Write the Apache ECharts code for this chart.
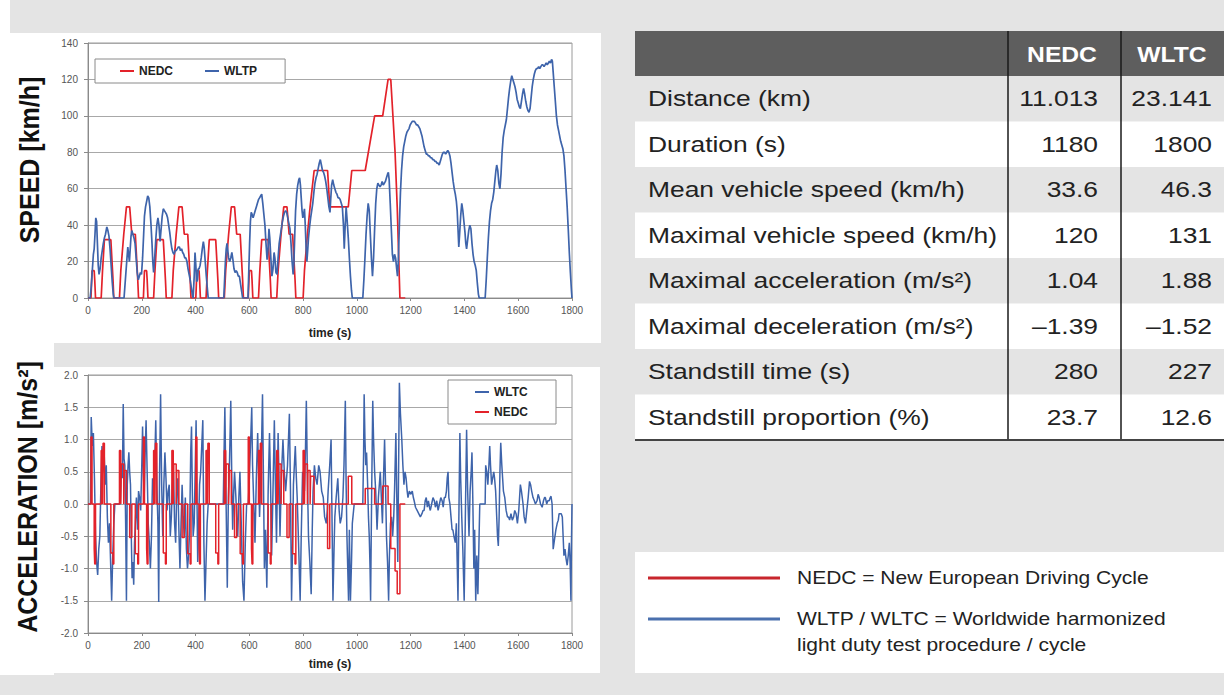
<!DOCTYPE html>
<html>
<head>
<meta charset="utf-8">
<title>NEDC vs WLTC driving cycles</title>
<script src="https://cdn.jsdelivr.net/npm/echarts@6/dist/echarts.min.js"></script>
<style>
  html, body { margin: 0; padding: 0; background: #e4e4e4; }
  #c { width: 1224px; height: 695px; }
</style>
</head>
<body>
<div id="c"></div>
<script>
// ---- Speed traces [time s, speed km/h] ----
const nedcSpeed = [
  [0,0],[11,0],[15,15],[23,15],[25,10],[28,0],[49,0],[54,15],[56,15],[61,32],[85,32],[93,10],[96,0],
  [117,0],[122,15],[124,15],[133,35],[135,35],[143,50],[155,50],[163,35],[176,35],[185,10],[188,0],[195,0],
  [206,0],[210,15],[218,15],[220,10],[223,0],[244,0],[249,15],[251,15],[256,32],[280,32],[288,10],[291,0],
  [312,0],[317,15],[319,15],[328,35],[330,35],[338,50],[350,50],[358,35],[371,35],[380,10],[383,0],[390,0],
  [401,0],[405,15],[413,15],[415,10],[418,0],[439,0],[444,15],[446,15],[451,32],[475,32],[483,10],[486,0],
  [507,0],[512,15],[514,15],[523,35],[525,35],[533,50],[545,50],[553,35],[566,35],[575,10],[578,0],[585,0],
  [596,0],[600,15],[608,15],[610,10],[613,0],[634,0],[639,15],[641,15],[646,32],[670,32],[678,10],[681,0],
  [702,0],[707,15],[709,15],[718,35],[720,35],[728,50],[740,50],[748,35],[761,35],[770,10],[773,0],[780,0],
  [800,0],[805,15],[807,15],[816,35],[818,35],[826,50],[828,50],[841,70],[891,70],[899,50],[968,50],
  [981,70],[1031,70],[1066,100],[1096,100],[1116,120],[1126,120],[1142,80],[1150,50],[1160,0],[1180,0]
];

const wltcSpeed = [
  [0,0],[8,0],[12,6],[16,15],[20,24],[23,27],[26,35],[29,44],[32,42],[35,30],[38,18],[41,13],[45,16],[49,22],
  [53,26],[57,30],[61,33],[65,35],[70,39],[74,37],[78,34],[82,27],[86,18],[90,9],[94,2],[96,0],
  [134,0],[137,6],[141,14],[145,22],[148,28],[151,24],[154,20],[157,27],[160,34],[163,37],[167,35],[171,33],
  [175,30],[179,22],[183,14],[187,10],[191,12],[195,14],[199,13],[203,22],[207,35],[210,45],[214,50],[218,53],
  [222,56],[226,55],[230,50],[234,41],[238,30],[241,20],[244,14],[248,22],[252,32],[256,40],[260,44],[264,40],
  [268,31],[272,38],[276,45],[280,49],[284,48],[288,47],[292,46],[296,44],[300,40],[304,36],[308,31],[312,27],
  [316,25],[320,24],[324,26],[328,26],[332,27],[336,28],[340,28],[344,26],[348,27],[352,25],[356,24],[360,22],
  [364,22],[368,20],[372,16],[376,13],[380,10],[384,6],[388,2],[391,0],
  [393,0],[395,12],[398,25],[401,18],[404,9],[407,10],[410,16],[413,16],[417,18],[421,22],[425,27],[429,31],
  [432,28],[436,20],[440,12],[444,5],[447,0],
  [505,0],[508,10],[511,20],[514,27],[517,30],[520,26],[523,22],[527,20],[531,22],[535,25],[539,21],[543,16],
  [547,14],[551,15],[555,14],[559,12],[563,12],[567,8],[571,4],[575,0],
  [595,0],[598,15],[601,30],[604,42],[607,47],[610,46],[614,44],[618,46],[622,48],[626,50],[630,52],[634,54],
  [638,55],[642,56],[646,57],[650,52],[654,46],[658,40],[662,30],[666,21],[670,28],[673,38],[676,33],[680,22],
  [684,12],[688,16],[692,25],[695,22],[699,14],[703,13],[707,22],[711,30],[715,34],[719,38],[723,42],[727,45],
  [731,47],[735,48],[739,47],[743,44],[747,41],[751,38],[755,30],[759,20],[763,13],[766,20],[769,35],[772,48],
  [776,57],[780,62],[784,65],[787,66],[790,62],[793,55],[796,48],[799,44],[802,46],[805,49],[808,40],[811,28],
  [814,20],[817,26],[820,33],[824,39],[828,44],[832,48],[836,52],[840,58],[844,63],[848,66],[852,68],[856,71],
  [860,74],[864,76],[868,73],[872,70],[876,69],[880,67],[884,64],[888,60],[892,55],[896,50],[900,47],[903,55],
  [906,62],[910,65],[914,62],[918,60],[922,58],[926,57],[930,55],[934,55],[938,54],[942,52],[946,50],[950,40],
  [953,27],[956,38],[960,50],[964,42],[968,33],[972,22],[976,12],[980,4],[983,0],
  [1022,0],[1026,10],[1030,22],[1034,35],[1038,45],[1042,52],[1046,48],[1050,35],[1054,22],[1058,12],[1062,22],
  [1066,38],[1070,52],[1074,60],[1078,63],[1082,62],[1086,61],[1090,62],[1094,64],[1098,62],[1102,63],[1106,64],
  [1110,66],[1114,68],[1117,69],[1120,65],[1124,52],[1128,38],[1132,24],[1136,20],[1140,24],[1144,22],[1148,16],
  [1151,12],[1154,20],[1158,40],[1162,58],[1166,70],[1170,78],[1174,83],[1178,86],[1182,89],[1186,91],[1190,92],
  [1194,93],[1198,95],[1202,96],[1206,97],[1210,97],[1214,97],[1218,96],[1222,95],[1226,95],[1230,94],[1234,93],
  [1238,91],[1242,89],[1246,86],[1250,83],[1254,81],[1258,79],[1262,79],[1266,78],[1270,78],[1274,77],[1278,77],
  [1282,76],[1286,76],[1290,75],[1294,75],[1298,74],[1302,74],[1306,73],[1310,75],[1314,77],[1318,79],[1322,80],
  [1326,80],[1330,79],[1334,80],[1338,81],[1342,80],[1346,78],[1350,74],[1354,69],[1358,64],[1362,60],[1366,57],
  [1370,53],[1373,48],[1376,38],[1379,28],[1382,35],[1386,45],[1390,52],[1394,48],[1398,42],[1402,36],[1405,30],
  [1408,27],[1412,32],[1416,37],[1420,40],[1424,38],[1428,30],[1432,24],[1436,20],[1440,18],[1444,15],[1448,8],
  [1452,2],[1455,0],
  [1477,0],[1481,10],[1485,22],[1489,33],[1493,42],[1497,48],[1501,52],[1505,54],[1509,58],[1513,64],[1517,70],
  [1520,73],[1524,70],[1528,63],[1532,60],[1536,68],[1540,80],[1544,88],[1548,92],[1552,95],[1556,98],[1560,104],
  [1564,110],[1568,115],[1572,119],[1576,122],[1580,120],[1584,118],[1588,116],[1592,113],[1596,109],[1600,107],
  [1604,105],[1608,104],[1612,108],[1616,112],[1620,115],[1624,112],[1628,108],[1632,105],[1636,103],[1640,102],
  [1644,104],[1648,110],[1652,116],[1656,120],[1660,123],[1664,125],[1668,126],[1672,126],[1676,127],[1680,126],
  [1684,127],[1688,128],[1692,128],[1696,127],[1700,128],[1704,129],[1708,128],[1712,129],[1716,130],[1720,129],
  [1724,131],[1727,130],[1730,124],[1734,116],[1738,108],[1742,100],[1746,95],[1750,92],[1754,89],[1758,86],
  [1762,84],[1766,82],[1770,78],[1774,70],[1778,60],[1782,50],[1786,38],[1790,25],[1794,14],[1798,4],[1800,0]
];

// ---- Acceleration traces [time s, acceleration m/s²] ----
// NEDC phases: each value holds until the next time stamp
const nedcAccel = [
  [0,0],[11,1.04],[15,0],[23,-0.69],[25,-0.93],[28,0],[49,0.83],[54,0],[56,0.94],[61,0],[85,-0.76],[93,-0.93],[96,0],
  [117,0.83],[122,0],[124,0.62],[133,0],[135,0.52],[143,0],[155,-0.52],[163,0],[176,-0.77],[185,-0.93],[188,0],
  [206,1.04],[210,0],[218,-0.69],[220,-0.93],[223,0],[244,0.83],[249,0],[251,0.94],[256,0],[280,-0.76],[288,-0.93],[291,0],
  [312,0.83],[317,0],[319,0.62],[328,0],[330,0.52],[338,0],[350,-0.52],[358,0],[371,-0.77],[380,-0.93],[383,0],
  [401,1.04],[405,0],[413,-0.69],[415,-0.93],[418,0],[439,0.83],[444,0],[446,0.94],[451,0],[475,-0.76],[483,-0.93],[486,0],
  [507,0.83],[512,0],[514,0.62],[523,0],[525,0.52],[533,0],[545,-0.52],[553,0],[566,-0.77],[575,-0.93],[578,0],
  [596,1.04],[600,0],[608,-0.69],[610,-0.93],[613,0],[634,0.83],[639,0],[641,0.94],[646,0],[670,-0.76],[678,-0.93],[681,0],
  [702,0.83],[707,0],[709,0.62],[718,0],[720,0.52],[728,0],[740,-0.52],[748,0],[761,-0.77],[770,-0.93],[773,0],
  [800,0.83],[805,0],[807,0.62],[816,0],[818,0.52],[826,0],[828,0.43],[841,0],[891,-0.69],[899,0],
  [968,0.43],[981,0],[1031,0.24],[1066,0],[1096,0.28],[1116,0],[1126,-0.69],[1142,-1.04],[1150,-1.39],[1160,0],[1180,0]
];

const wltcAccel = [
  [0,0],[9,0],[12,1.35],[16,0.9],[20,1.1],[24,0.4],[28,-0.5],[32,-0.9],[36,-1.1],[40,-0.7],[44,-0.5],[48,0.3],
  [52,0.9],[56,0.5],[60,0.8],[64,0.3],[68,0.6],[72,-0.2],[76,-0.6],[80,-0.3],[84,-0.9],[88,-1.5],[92,-0.8],[96,-0.3],[100,0],
  [120,0],[124,0.6],[128,0.4],[131,1.55],[134,0.7],[137,0.6],[140,-0.3],[143,-1.5],[146,0.3],[149,0.6],[152,0.8],
  [155,0.5],[158,0.3],[161,-0.5],[164,-1.15],[167,-0.9],[170,-1.25],[173,-0.6],[176,-0.3],[180,0.1],[184,-0.4],
  [188,0.2],[192,0.1],[196,-0.1],[200,0.6],[203,1.2],[206,0.5],[209,0.1],[212,0.7],[216,1.3],[220,0.5],[224,-0.3],
  [228,-0.6],[232,-1.0],[236,-0.5],[240,0.4],[244,0.2],[248,0.6],[252,1.3],[256,0.3],[260,-0.3],[263,-1.52],[266,0.4],
  [270,1.7],[274,0.3],[278,-0.5],[282,0.3],[286,0.8],[290,0.4],[294,-0.1],[298,0.2],[302,0.3],[306,-0.5],[310,-0.2],
  [314,0.3],[318,0.5],[322,-0.3],[326,-0.6],[330,0.2],[334,0.4],[338,-0.4],[342,-1.0],[346,-0.3],[350,0.3],[354,-0.2],
  [358,-0.5],[362,0.1],[366,-0.7],[370,-1.0],[374,-0.8],[378,-0.4],[382,0.8],[385,1.2],[388,0.2],[391,-0.5],[395,-0.3],
  [399,0.6],[402,1.3],[405,0.2],[408,-0.9],[411,-0.4],[415,0.3],[419,0.5],[423,0.9],[427,1.3],[431,-0.6],[435,-1.5],
  [439,-0.9],[443,-0.3],[447,0],
  [503,0],[506,0.8],[509,1.5],[513,0.2],[518,-1.3],[522,0.1],[526,0.6],[531,1.6],[535,0.3],[538,-0.4],[542,0.2],
  [545,0.5],[550,0.1],[554,-0.3],[557,-0.5],[561,0.1],[565,0.5],[570,-0.3],[575,-1.2],[580,-1.5],[585,-0.6],[590,0],
  [596,0],[600,0.4],[605,1.0],[609,1.5],[612,0.6],[615,0.2],[621,-0.6],[626,0.4],[631,1.1],[635,0.4],[638,-0.2],
  [644,0.6],[649,1.7],[653,0.2],[656,-1.0],[660,-0.4],[665,-1.3],[670,0.2],[675,1.1],[679,0.3],[683,-0.8],[688,0.2],
  [693,1.3],[697,0.3],[701,-0.6],[704,0.2],[707,1.1],[711,0.3],[714,-0.5],[719,0.4],[725,1.0],[730,0.5],[735,0.2],
  [742,0.6],[749,1.4],[753,0.2],[757,-1.5],[761,-0.6],[764,0.3],[771,0.9],[775,0.4],[778,0.1],[783,-0.6],[789,-1.5],
  [793,-0.5],[798,0.5],[805,0.2],[809,0.9],[812,1.6],[816,0.4],[820,-0.5],[825,-0.9],[830,-1.4],[834,-0.4],[837,0.2],
  [842,0.6],[847,0.4],[852,0.3],[858,0.6],[863,0.5],[869,0.2],[875,0.1],[880,-0.2],[886,-0.3],[890,-0.1],[893,0.2],
  [899,0.6],[904,1.0],[908,-0.4],[911,-1.5],[915,-0.7],[918,-0.2],[923,0.1],[929,0.4],[934,-0.1],[938,-0.3],[943,-0.2],
  [948,0.1],[952,0.6],[957,1.6],[960,0.3],[963,-0.5],[966,-1.0],[969,-1.5],[972,-0.4],[976,-1.5],[980,-0.9],[983,-0.3],[990,0],
  [1022,0],[1025,0.8],[1027,1.7],[1030,1.0],[1033,0.6],[1036,0.8],[1040,0.3],[1043,-0.2],[1046,-0.5],[1049,-1.0],
  [1051,-1.5],[1055,0.2],[1059,1.6],[1062,1.0],[1066,0.5],[1070,0.2],[1075,-0.4],[1080,0.1],[1087,0.5],[1091,0.1],
  [1095,-0.3],[1099,0.4],[1103,1.0],[1107,0.2],[1110,-0.5],[1114,-0.9],[1118,-1.5],[1121,-0.8],[1125,-0.3],[1129,-0.2],
  [1133,-0.5],[1137,-0.2],[1140,0.2],[1145,1.1],[1148,0.2],[1152,-0.9],[1155,0.5],[1158,1.88],[1162,1.4],[1167,1.0],
  [1171,0.6],[1175,0.3],[1179,0.5],[1183,0.4],[1187,0.2],[1190,0.1],[1195,0.2],[1200,0.15],[1206,0.2],[1210,0.1],
  [1213,0.05],[1218,-0.05],[1224,-0.1],[1230,-0.15],[1236,-0.2],[1242,-0.15],[1246,-0.1],[1250,-0.1],[1254,0.05],
  [1258,0.1],[1262,-0.05],[1266,0.05],[1270,-0.05],[1273,-0.1],[1278,0.0],[1283,0.1],[1288,0.05],[1292,-0.05],
  [1297,0.05],[1302,-0.1],[1307,0.0],[1312,0.1],[1317,0.05],[1321,-0.05],[1325,0.1],[1329,0.1],[1333,0.2],[1336,0.4],
  [1339,0.5],[1342,0.1],[1346,0.0],[1350,-0.2],[1354,-0.4],[1357,-0.4],[1361,-0.5],[1366,-0.6],[1370,-0.3],[1373,-0.9],
  [1376,-1.5],[1379,-0.3],[1383,1.1],[1386,0.4],[1390,-0.2],[1394,-0.7],[1399,-1.5],[1403,-0.3],[1408,1.15],[1412,0.2],
  [1417,-0.5],[1421,0.2],[1425,0.5],[1428,0.8],[1431,0.1],[1435,-1.0],[1438,-0.4],[1442,-1.5],[1446,-0.8],[1450,-1.4],
  [1454,-0.6],[1457,0],[1477,0],
  [1479,0.6],[1483,0.5],[1487,0.3],[1491,0.6],[1494,0.9],[1497,0.6],[1501,0.3],[1505,0.4],[1509,0.5],[1512,0.4],
  [1516,0.2],[1520,-0.2],[1523,-0.5],[1526,-0.65],[1529,-0.2],[1532,0.5],[1535,0.95],[1539,0.6],[1542,0.4],[1545,0.2],
  [1550,0.1],[1555,-0.1],[1560,-0.2],[1564,-0.2],[1568,-0.25],[1573,-0.15],[1578,-0.25],[1583,-0.2],[1587,-0.1],
  [1592,-0.15],[1597,-0.3],[1602,-0.1],[1605,0.1],[1608,0.3],[1612,0.2],[1615,0.1],[1618,0.0],[1622,-0.2],[1627,-0.3],
  [1632,-0.1],[1637,0.1],[1642,0.35],[1646,0.3],[1650,0.2],[1655,0.1],[1660,0.05],[1664,0.0],[1670,0.05],[1674,0.15],
  [1678,0.1],[1683,0.0],[1689,-0.05],[1694,0.05],[1698,0.1],[1701,0.1],[1706,0.0],[1710,0.05],[1715,0.05],[1719,0.1],
  [1722,0.12],[1726,0.0],[1730,-0.7],[1735,-0.55],[1740,-0.4],[1745,-0.3],[1749,-0.25],[1752,-0.15],[1756,-0.15],
  [1760,-0.15],[1764,-0.2],[1767,-0.5],[1770,-0.8],[1774,-0.7],[1778,-0.85],[1782,-0.95],[1786,-0.8],[1790,-0.6],
  [1793,-0.9],[1796,-1.5],[1798,-0.6],[1800,0]
];

// ---- Axis scales ----
const timeTicks = { min: 0, max: 1800, step: 200 };
const speedTicks = { min: 0, max: 140, step: 20 };
const accelTicks = { min: -2, max: 2, step: 0.5 };

// ---- Comparison table ----
const tableHeads = ['NEDC', 'WLTC'];
const statLabels = [
  'Distance (km)', 'Duration (s)', 'Mean vehicle speed (km/h)', 'Maximal vehicle speed (km/h)',
  'Maximal acceleration (m/s²)', 'Maximal deceleration (m/s²)', 'Standstill time (s)', 'Standstill proportion (%)'
];
const statNedc = ['11.013', '1180', '33.6', '120', '1.04', '–1.39', '280', '23.7'];
const statWltc = ['23.141', '1800', '46.3', '131', '1.88', '–1.52', '227', '12.6'];

// ---- Key ----
const keyLines = [
  { color: '#c8262d', lines: ['NEDC = New European Driving Cycle'] },
  { color: '#4a70ae', lines: ['WLTP / WLTC = Worldwide harmonized', 'light duty test procedure / cycle'] }
];

const FONT = '"Liberation Sans", Arial, Helvetica, sans-serif';
const RED = '#e3222a';
const BLUE = '#3e64ab';
const STRETCH = 1.2;

const chart = echarts.init(document.getElementById('c'), null, { renderer: 'svg', width: 1224, height: 695 });

// Background panels, axis titles, table and key
const g = [];
const rect = (x, y, w, h, fill, z) => g.push({ type: 'rect', z: z, silent: true, shape: { x, y, width: w, height: h }, style: { fill } });
rect(0, 0, 10, 33, '#ffffff', -10);
rect(0, 33, 601, 310, '#ffffff', -10);
rect(0, 33, 54, 642, '#ffffff', -10);
rect(54, 367, 546, 306, '#ffffff', -10);

g.push({ type: 'text', x: 30, y: 160, rotation: Math.PI / 2, scaleY: 1.12, z: 10,
  style: { text: 'SPEED [km/h]', font: 'bold 25px ' + FONT, fill: '#111', align: 'center', verticalAlign: 'middle' } });
g.push({ type: 'text', x: 28, y: 497, rotation: Math.PI / 2, scaleY: 1.12, z: 10,
  style: { text: 'ACCELERATION [m/s²]', font: 'bold 25px ' + FONT, fill: '#111', align: 'center', verticalAlign: 'middle' } });

// table
const tL = 635, tR = 1224, tTop = 31, headH = 45, rowH = 45.5, col1 = 1008, col2 = 1121;
rect(tL, tTop, tR - tL, headH, '#5e5e5e', 5);
statLabels.forEach((lab, i) => {
  const y0 = tTop + headH + i * rowH;
  rect(tL, y0, tR - tL, rowH, i % 2 === 0 ? '#e4e4e4' : '#ffffff', 5);
  const cy = y0 + rowH / 2;
  g.push({ type: 'text', x: 648, y: cy, scaleX: STRETCH, z: 10,
    style: { text: lab, font: '22px ' + FONT, fill: '#222', align: 'left', verticalAlign: 'middle' } });
  g.push({ type: 'text', x: 1098, y: cy, scaleX: STRETCH, z: 10,
    style: { text: statNedc[i], font: '22px ' + FONT, fill: '#222', align: 'right', verticalAlign: 'middle' } });
  g.push({ type: 'text', x: 1212, y: cy, scaleX: STRETCH, z: 10,
    style: { text: statWltc[i], font: '22px ' + FONT, fill: '#222', align: 'right', verticalAlign: 'middle' } });
});
[1062, 1172].forEach((cx, i) => g.push({ type: 'text', x: cx, y: tTop + headH / 2 + 1, scaleX: 1.12, z: 10,
  style: { text: tableHeads[i], font: 'bold 22px ' + FONT, fill: '#ffffff', align: 'center', verticalAlign: 'middle' } }));
const tBottom = tTop + headH + statLabels.length * rowH;
[col1, col2].forEach(x => g.push({ type: 'line', z: 11, silent: true,
  shape: { x1: x, y1: tTop, x2: x, y2: tBottom }, style: { stroke: '#1a1a1a', lineWidth: 1.5 } }));
g.push({ type: 'line', z: 11, silent: true, shape: { x1: tL, y1: tBottom, x2: tR, y2: tBottom },
  style: { stroke: '#444', lineWidth: 2 } });

// key box
rect(635, 552, 589, 121, '#ffffff', 5);
const keyY = [578, 619];
keyLines.forEach((k, i) => {
  g.push({ type: 'line', z: 10, silent: true, shape: { x1: 648, y1: keyY[i], x2: 780, y2: keyY[i] },
    style: { stroke: k.color, lineWidth: 3 } });
  k.lines.forEach((t, j) => g.push({ type: 'text', x: 797, y: keyY[i] + j * 26, scaleX: STRETCH, z: 10,
    style: { text: t, font: '17.5px ' + FONT, fill: '#222', align: 'left', verticalAlign: 'middle' } }));
});

const xAxisCfg = (gi, gap) => ({
  gridIndex: gi, type: 'value', min: timeTicks.min, max: timeTicks.max, interval: timeTicks.step,
  name: 'time (s)', nameLocation: 'middle', nameGap: gap,
  nameTextStyle: { fontFamily: FONT, fontWeight: 'bold', fontSize: 12, color: '#222' },
  axisLine: { onZero: false, lineStyle: { color: '#8a8a8a', width: 1 } },
  axisTick: { show: true, length: 3, lineStyle: { color: '#8a8a8a' } },
  axisLabel: { fontFamily: FONT, fontSize: 10, color: '#555', margin: 7, formatter: v => String(v) },
  splitLine: { show: false }
});
const yAxisCfg = (gi, t, fmt) => ({
  gridIndex: gi, type: 'value', min: t.min, max: t.max, interval: t.step,
  axisLine: { show: true, onZero: false, lineStyle: { color: '#8a8a8a', width: 1 } },
  axisTick: { show: true, length: 4, lineStyle: { color: '#8a8a8a' } },
  axisLabel: { fontFamily: FONT, fontSize: 10, color: '#555', margin: 10, formatter: fmt },
  splitLine: { show: true, lineStyle: { color: '#a8a8a8', width: 1 } }
});

const legendBase = {
  icon: 'rect', itemWidth: 14, itemHeight: 2, selectedMode: false,
  backgroundColor: '#ffffff', borderColor: '#8a8a8a', borderWidth: 1,
  textStyle: { fontFamily: FONT, fontWeight: 'bold', fontSize: 12, color: '#222' }
};

chart.setOption({
  backgroundColor: '#e4e4e4',
  animation: false,
  graphic: { elements: g },
  grid: [
    { left: 88, top: 43, width: 484, height: 255, show: true, backgroundColor: '#ffffff', borderColor: '#9a9a9a', borderWidth: 1 },
    { left: 88, top: 375, width: 484, height: 258, show: true, backgroundColor: '#ffffff', borderColor: '#9a9a9a', borderWidth: 1 }
  ],
  xAxis: [xAxisCfg(0, 29), xAxisCfg(1, 25)],
  yAxis: [
    yAxisCfg(0, speedTicks, v => String(v)),
    yAxisCfg(1, accelTicks, v => v.toFixed(1))
  ],
  legend: [
    Object.assign({}, legendBase, { data: ['NEDC', 'WLTP'], orient: 'horizontal', left: 95, top: 59, padding: [6, 28, 6, 25], itemGap: 32 }),
    Object.assign({}, legendBase, { data: ['WLTC', 'NEDC'], orient: 'vertical', left: 448, top: 380, padding: [6, 28, 6, 27], itemGap: 8 })
  ],
  series: [
    { name: 'NEDC', type: 'line', xAxisIndex: 0, yAxisIndex: 0, data: nedcSpeed, symbol: 'none', z: 2,
      lineStyle: { color: RED, width: 1.7 }, itemStyle: { color: RED } },
    { name: 'WLTP', type: 'line', xAxisIndex: 0, yAxisIndex: 0, data: wltcSpeed, symbol: 'none', z: 3,
      lineStyle: { color: BLUE, width: 1.7 }, itemStyle: { color: BLUE } },
    { name: 'WLTC', type: 'line', xAxisIndex: 1, yAxisIndex: 1, data: wltcAccel, symbol: 'none', z: 2,
      lineStyle: { color: BLUE, width: 1.5 }, itemStyle: { color: BLUE } },
    { name: 'NEDC', type: 'line', xAxisIndex: 1, yAxisIndex: 1, data: nedcAccel, step: 'end', symbol: 'none', z: 3,
      lineStyle: { color: RED, width: 1.5 }, itemStyle: { color: RED } }
  ]
});
</script>
</body>
</html>
